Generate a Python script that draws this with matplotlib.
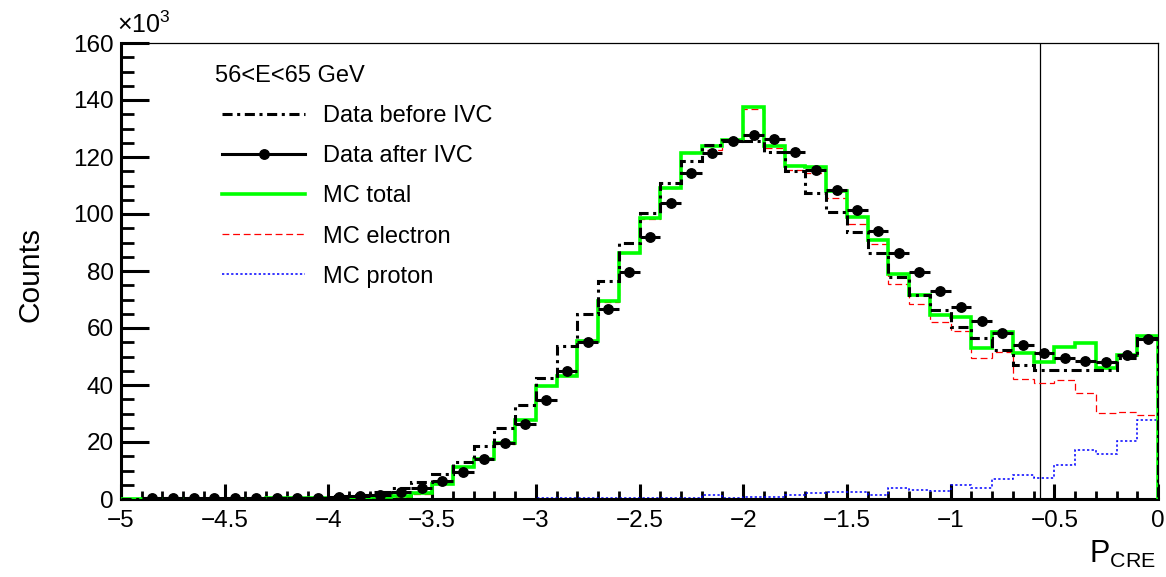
import matplotlib
matplotlib.use('Agg')

import matplotlib.pyplot as plt
from matplotlib.ticker import MultipleLocator, FuncFormatter
from matplotlib.lines import Line2D
import numpy as np

# === data (counts in units of 10^3), 50 bins of width 0.1 on [-5, 0] ===
EDGES = np.linspace(-5, 0, 51)

DATA_BEFORE = [0.1, 0.2, 0.2, 0.2, 0.2, 0.3, 0.3, 0.3, 0.4, 0.5,
               0.9, 1.4, 2.5, 3.8, 5.9, 8.9, 13.1, 18.6, 24.8, 33.0,
               42.3, 53.7, 64.9, 76.6, 89.7, 100.5, 111.0, 118.7, 124.2, 125.8,
               125.5, 121.6, 115.0, 107.5, 100.6, 93.6, 86.2, 77.8, 71.6, 66.3,
               60.5, 56.4, 52.4, 47.0, 45.3, 45.3, 45.3, 45.3, 49.5, 56.5]

DATA_AFTER = [0.0, 0.2, 0.2, 0.2, 0.2, 0.2, 0.3, 0.3, 0.3, 0.4,
              0.6, 0.9, 1.4, 2.4, 4.0, 6.2, 9.6, 14.1, 19.8, 26.2,
              34.7, 45.0, 55.2, 66.6, 79.7, 91.8, 103.9, 114.4, 121.5, 125.7,
              127.8, 126.4, 121.7, 115.4, 108.4, 101.4, 94.2, 86.2, 79.7, 73.1,
              67.3, 62.5, 58.4, 54.0, 51.3, 49.4, 48.5, 48.0, 50.5, 56.0]

MC_TOTAL = [0.1, 0.1, 0.1, 0.1, 0.1, 0.1, 0.1, 0.2, 0.2, 0.2,
            0.3, 0.4, 0.6, 0.9, 2.0, 5.2, 11.3, 14.0, 19.5, 27.7,
            39.8, 43.2, 55.6, 69.4, 86.4, 98.5, 109.2, 121.5, 124.0, 126.1,
            137.7, 123.9, 116.8, 116.6, 108.2, 99.0, 90.9, 78.9, 71.6, 64.6,
            63.8, 52.9, 58.7, 51.1, 48.2, 53.4, 54.8, 45.9, 50.5, 57.2]

MC_ELECTRON = [0.1, 0.1, 0.1, 0.1, 0.1, 0.1, 0.1, 0.2, 0.2, 0.2,
               0.3, 0.4, 0.6, 0.8, 1.9, 5.1, 11.2, 13.9, 19.4, 27.6,
               39.6, 43.0, 55.4, 69.2, 86.2, 98.3, 109.0, 121.3, 122.6, 125.9,
               136.9, 123.1, 115.4, 114.5, 105.6, 96.4, 89.3, 75.3, 68.4, 62.0,
               59.1, 49.3, 51.7, 42.0, 40.6, 41.8, 37.1, 30.1, 30.4, 29.5]

MC_PROTON = [0.0, 0.0, 0.0, 0.0, 0.0, 0.0, 0.0, 0.0, 0.0, 0.0,
             0.0, 0.0, 0.0, 0.1, 0.1, 0.1, 0.1, 0.1, 0.1, 0.1,
             0.2, 0.2, 0.2, 0.2, 0.2, 0.2, 0.2, 0.2, 1.4, 0.2,
             0.8, 0.8, 1.4, 2.1, 2.6, 2.6, 1.4, 3.7, 3.2, 2.8,
             4.9, 3.7, 6.9, 8.4, 7.5, 11.9, 17.2, 15.8, 20.5, 27.7]

CUT_X = -0.57
HEADER = '56<E<65 GeV'
LABELS = ['Data before IVC', 'Data after IVC', 'MC total', 'MC electron', 'MC proton']
# ======================================================================

plt.rcParams['font.family'] = ['Liberation Sans', 'DejaVu Sans']
plt.rcParams['mathtext.fontset'] = 'custom'
plt.rcParams['mathtext.rm'] = 'Liberation Sans'
plt.rcParams['mathtext.it'] = 'Liberation Sans:italic'

W, H = 1166, 577
fig = plt.figure(figsize=(W / 100, H / 100), dpi=100)
ax = fig.add_axes([121 / W, 1 - 499 / H, (1158 - 121) / W, (499 - 43) / H])

centers = 0.5 * (EDGES[:-1] + EDGES[1:])
after = np.array(DATA_AFTER)

dashdot = (0, (3.3, 1.5, 1.0, 1.5))
red_dash = (0, (5.5, 3.0))
blue_dot = (0, (1.5, 1.5))

# electron/proton underneath the green total, data on top
ax.stairs(MC_ELECTRON, EDGES, baseline=0, color='#ff0000', lw=0.9, ls=red_dash, zorder=2)
ax.stairs(MC_PROTON, EDGES, baseline=0, color='#0000ff', lw=1.1, ls=blue_dot, zorder=2)
ax.stairs(MC_TOTAL, EDGES, baseline=0, color='#00ff00', lw=2.6, zorder=3)
ax.stairs(DATA_BEFORE, EDGES, baseline=0, color='black', lw=2.2, ls=dashdot, zorder=4)

keep = after > 0
ax.errorbar(centers[keep], after[keep], xerr=0.05, fmt='o', color='black',
            ms=6.8, elinewidth=2.2, capsize=0, zorder=5)

ax.axvline(CUT_X, color='black', lw=0.9, zorder=1)

ax.set_xlim(-5, 0)
ax.set_ylim(0, 160)
ax.xaxis.set_major_locator(MultipleLocator(0.5))
ax.xaxis.set_minor_locator(MultipleLocator(0.1))
ax.yaxis.set_major_locator(MultipleLocator(20))
ax.yaxis.set_minor_locator(MultipleLocator(5))
ax.xaxis.set_major_formatter(FuncFormatter(lambda v, p: ('%g' % v).replace('-', '\u2212')))
ax.yaxis.set_major_formatter(FuncFormatter(lambda v, p: '%g' % v))

ax.tick_params(which='both', direction='in', top=False, right=False, labelsize=17.5)
ax.tick_params(axis='y', which='major', length=20, width=2.2, pad=5)
ax.tick_params(axis='y', which='minor', length=9.5, width=2.0)
ax.tick_params(axis='x', which='major', length=11, width=2.2, pad=8)
ax.tick_params(axis='x', which='minor', length=5.5, width=2.0)

for s in ('left', 'bottom'):
    ax.spines[s].set_linewidth(2.2)
for s in ('top', 'right'):
    ax.spines[s].set_linewidth(0.9)

# axis titles and exponent
fig.text(30 / W, 1 - 274 / H, 'Counts', rotation=90, ha='center', va='center', fontsize=21.5)
fig.text(1156 / W, 1 - 563 / H, r'P$_{\mathrm{CRE}}$', ha='right', va='baseline', fontsize=22)
fig.text(117 / W, 1 - 33 / H, '\u00d710$^{3}$', ha='left', va='baseline', fontsize=18)

# legend
fig.text(215 / W, 1 - 76 / H, HEADER, ha='left', va='center', fontsize=17)
handles = [
    Line2D([], [], color='black', lw=2.2, ls=dashdot),
    Line2D([], [], color='black', lw=2.2, marker='o', ms=6.8),
    Line2D([], [], color='#00ff00', lw=2.6),
    Line2D([], [], color='#ff0000', lw=0.9, ls=red_dash),
    Line2D([], [], color='#0000ff', lw=1.1, ls=blue_dot),
]
fs = 17
fs_px = fs * 100 / 72
ax.legend(handles, LABELS, loc='upper left', frameon=False, fontsize=fs,
          bbox_to_anchor=(222 / W, 1 - 105 / H), bbox_transform=fig.transFigure,
          borderaxespad=0, borderpad=0, handlelength=83 / fs_px,
          handletextpad=(323 - 305) / fs_px, labelspacing=0.77, numpoints=1)

fig.savefig('out.png', dpi=100)
